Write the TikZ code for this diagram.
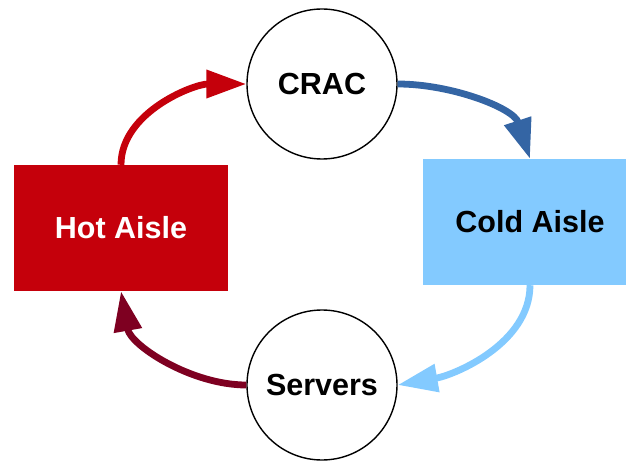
\documentclass[tikz,border=0pt]{standalone}
\usepackage{fontspec}
\setmainfont{Liberation Sans}
\usetikzlibrary{arrows.meta}
\definecolor{hotred}{HTML}{C5000B}
\definecolor{coldblue}{HTML}{83CAFF}
\definecolor{flowblue}{HTML}{3465A4}
\definecolor{returnred}{HTML}{7E0021}
\begin{document}
\begin{tikzpicture}[x=1pt,y=1pt,
  unit/.style={circle,draw=black,line width=1.4pt,minimum size=150pt,inner sep=0pt,
    font=\fontsize{30.5}{34}\selectfont\bfseries},
  aisle/.style={rectangle,inner sep=0pt,minimum width=214pt,minimum height=126pt,
    font=\fontsize{30.5}{34}\selectfont\bfseries},
  flow/.style={line width=6.8pt,-{Triangle[length=40pt,width=27pt]}}]
  \useasboundingbox (0,0) rectangle (626,461);
  \clip (0,0) rectangle (626,461);
  % equipment
  \node[unit] (crac) at (322,377) {CRAC};
  \node[unit] (srv) at (322,76) {Servers};
  % aisles
  \node[aisle,fill=hotred,text=white] (hot) at (121,233) {Hot Aisle};
  \node[aisle,fill=coldblue,text=black] (cold) at (530,239) {Cold Aisle};
  % air flow loop
  \draw[flow,hotred] (hot.north) to[out=90,in=180,looseness=0.9] (crac.west);
  \draw[flow,flowblue] (crac.east) to[out=0,in=108,looseness=0.9] (cold.north);
  \draw[flow,coldblue] (cold.south) to[out=-90,in=10,looseness=0.9] (srv.east);
  \draw[flow,returnred] (srv.west) to[out=180,in=-80,looseness=0.9] (hot.south);
\end{tikzpicture}
\end{document}
